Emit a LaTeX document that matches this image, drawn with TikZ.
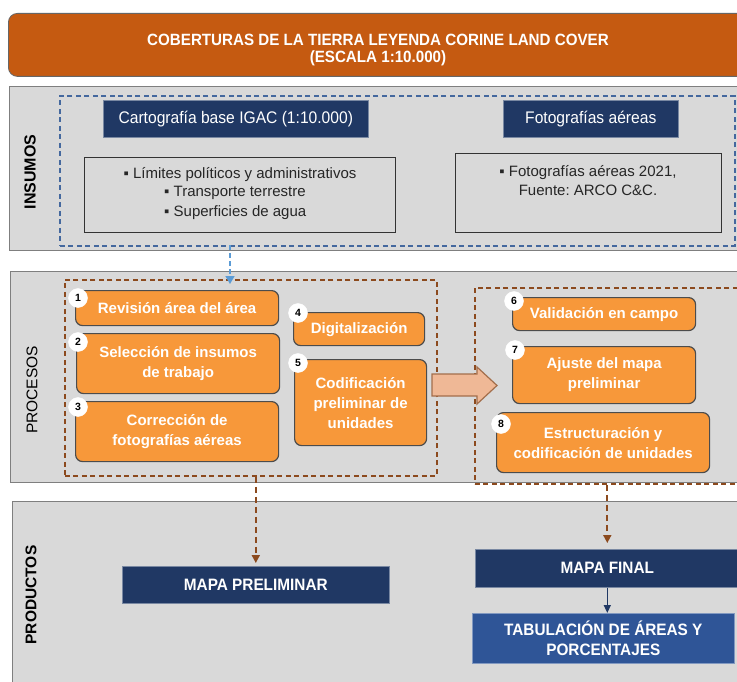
\documentclass[tikz,border=0pt]{standalone}
\usepackage{fontspec}
\setmainfont{Liberation Sans}
\newfontfamily\narrowf[FakeStretch=0.93]{Liberation Sans}
\usetikzlibrary{arrows.meta}
\frenchspacing
\definecolor{titleor}{HTML}{C55A11}
\definecolor{panelgray}{HTML}{D9D9D9}
\definecolor{panelline}{HTML}{7F7F7F}
\definecolor{navy}{HTML}{203864}
\definecolor{midblue}{HTML}{2F5597}
\definecolor{boxor}{HTML}{F7983A}
\definecolor{brownd}{HTML}{8C4A1E}
\definecolor{lblue}{HTML}{5B9BD5}
\definecolor{dblue}{HTML}{44689E}
\definecolor{salmon}{HTML}{EFB896}
\tikzset{
  panel/.style={draw=panelline, line width=1.2pt, fill=panelgray, anchor=north west, inner sep=0pt},
  navybox/.style={fill=navy, draw=navy!60!white, line width=0.6pt, text=white, anchor=north west, inner sep=0pt, align=center},
  txtbox/.style={draw=black!80, line width=1.2pt, fill=panelgray, anchor=north west, inner sep=0pt},
  obox/.style={draw=black!70, line width=1.2pt, fill=boxor, rounded corners=7pt, anchor=north west, inner sep=0pt, align=center, text=white, font=\fontsize{15}{20}\selectfont\bfseries},
  badge/.style={circle, fill=white, draw=white, minimum size=19pt, inner sep=0pt, font=\fontsize{10.5}{10.5}\selectfont\bfseries},
  grp/.style={draw=brownd, dash pattern=on 5pt off 3.5pt, line width=1.8pt, anchor=north west, inner sep=0pt},
  sidelbl/.style={rotate=90, font=\fontsize{15.5}{15.5}\selectfont\bfseries},
  ttxt/.style={font=\fontsize{15}{19.5}\selectfont, text=black!85},
}
\begin{document}
\begin{tikzpicture}[x=1pt,y=-1pt]
\useasboundingbox (0,0) rectangle (737,682);
\clip (0,0) rectangle (737,682);
\fill[white] (0,0) rectangle (737,682);
% title
\node[fill=titleor, draw=black!60, line width=0.8pt, rounded corners=9pt, anchor=north west, minimum width=750pt, minimum height=63pt, inner sep=0pt] (title) at (8,13) {};
\node[text=white, align=center, font=\narrowf\fontsize{16.3}{16.5}\selectfont\bfseries] (titletxt) at (378,50) {COBERTURAS DE LA TIERRA LEYENDA CORINE LAND COVER\\(ESCALA 1:10.000)};
% INSUMOS
\node[panel, minimum width=740pt, minimum height=164pt] (pIns) at (9,86) {};
\node[sidelbl, font=\fontsize{16}{16}\selectfont\bfseries] (lIns) at (30,172) {INSUMOS};
\node[draw=dblue, dash pattern=on 5pt off 3.5pt, line width=1.8pt, anchor=north west, minimum width=675pt, minimum height=150pt, inner sep=0pt] (gIns) at (59,95) {};
\node[navybox, minimum width=265pt, minimum height=37pt, font=\narrowf\fontsize{16.8}{18}\selectfont] (cart) at (103,100) {Cartografía base IGAC (1:10.000)};
\node[navybox, minimum width=175pt, minimum height=37pt, font=\narrowf\fontsize{16.8}{18}\selectfont] (foto) at (503,100) {Fotografías aéreas};
\node[txtbox, minimum width=311pt, minimum height=75pt] (tl) at (84,157) {};
\node[ttxt, anchor=north] (tlt1) at (240,164) {▪ Límites políticos y administrativos};
\node[ttxt, anchor=north west, align=left, inner sep=0pt] (tlt2) at (164,186) {▪ Transporte terrestre\\▪ Superficies de agua};
\node[txtbox, minimum width=266pt, minimum height=79pt] (tr) at (455,153) {};
\node[ttxt, anchor=north, align=center, inner sep=0pt] (trt) at (588,165) {▪ Fotografías aéreas 2021,\\Fuente: ARCO C\&C.};
% PROCESOS
\node[panel, minimum width=740pt, minimum height=211pt] (pPro) at (10,271) {};
\node[sidelbl, font=\fontsize{15.5}{15.5}\selectfont] (lPro) at (32,390) {PROCESOS};
\node[grp, minimum width=372pt, minimum height=196pt] (gA) at (64,279) {};
\node[grp, minimum width=280pt, minimum height=196pt] (gB) at (474,287) {};
\node[obox, minimum width=203pt, minimum height=35pt] (b1) at (75,290) {Revisión área del área};
\node[obox, minimum width=203pt, minimum height=60pt] (b2) at (76,333) {Selección de insumos\\de trabajo};
\node[obox, minimum width=203pt, minimum height=60pt] (b3) at (75,401) {Corrección de\\fotografías aéreas};
\node[obox, minimum width=131pt, minimum height=33pt] (b4) at (293,312) {Digitalización};
\node[obox, minimum width=132pt, minimum height=86pt] (b5) at (294,359) {Codificación\\preliminar de\\unidades};
\node[obox, minimum width=183pt, minimum height=33pt] (b6) at (512,297) {Validación en campo};
\node[obox, minimum width=183pt, minimum height=57pt] (b7) at (512,346) {Ajuste del mapa\\preliminar};
\node[obox, minimum width=213pt, minimum height=60pt] (b8) at (496,412) {Estructuración y\\codificación de unidades};
\node[badge] (n1) at (78,298) {1};
\node[badge] (n2) at (78,342) {2};
\node[badge] (n3) at (78,407) {3};
\node[badge] (n4) at (298,313) {4};
\node[badge] (n5) at (298,363) {5};
\node[badge] (n6) at (514,301) {6};
\node[badge] (n7) at (515,350) {7};
\node[badge] (n8) at (501,424) {8};
% big arrow between groups
\filldraw[fill=salmon, draw=brownd!80, line width=1.2pt] (432,374) -- (477,374) -- (477,367) -- (497,385.5) -- (477,404) -- (477,396) -- (432,396) -- cycle;
% PRODUCTOS
\node[panel, minimum width=740pt, minimum height=200pt] (pPrd) at (12,501) {};
\node[sidelbl, font=\fontsize{15.5}{15.5}\selectfont\bfseries] (lPrd) at (31,595) {PRODUCTOS};
\node[navybox, minimum width=267pt, minimum height=37pt, font=\narrowf\fontsize{16.5}{18}\selectfont\bfseries] (mp) at (122,566) {MAPA PRELIMINAR};
\node[navybox, minimum width=264pt, minimum height=38pt, font=\narrowf\fontsize{16.5}{18}\selectfont\bfseries] (mf) at (475,549) {MAPA FINAL};
\node[navybox, fill=midblue, draw=midblue!60!white, minimum width=262pt, minimum height=50pt, font=\narrowf\fontsize{16.5}{20.5}\selectfont\bfseries] (tab) at (472,613) {TABULACIÓN DE ÁREAS Y\\PORCENTAJES};
% connectors
\coordinate (insOut) at (230,245);
\draw[lblue, line width=1.6pt, dash pattern=on 5pt off 3pt, -{Triangle[length=8pt,width=9pt]}] (insOut) -- (insOut |- gA.north) -- ++(0,5);
\draw[brownd, line width=1.8pt, dash pattern=on 6pt off 4pt, -{Triangle[length=8pt,width=8pt]}, shorten >=3pt] (mp.north |- gA.south) -- (mp.north);
\draw[brownd, line width=1.8pt, dash pattern=on 6pt off 4pt, -{Triangle[length=8pt,width=8pt]}, shorten >=6pt] (gB.south -| mf.north) -- (mf.north);
\draw[navy, line width=1.4pt, -{Triangle[length=8pt,width=7pt]}] (mf.south) -- (mf.south |- tab.north);
\end{tikzpicture}
\end{document}
